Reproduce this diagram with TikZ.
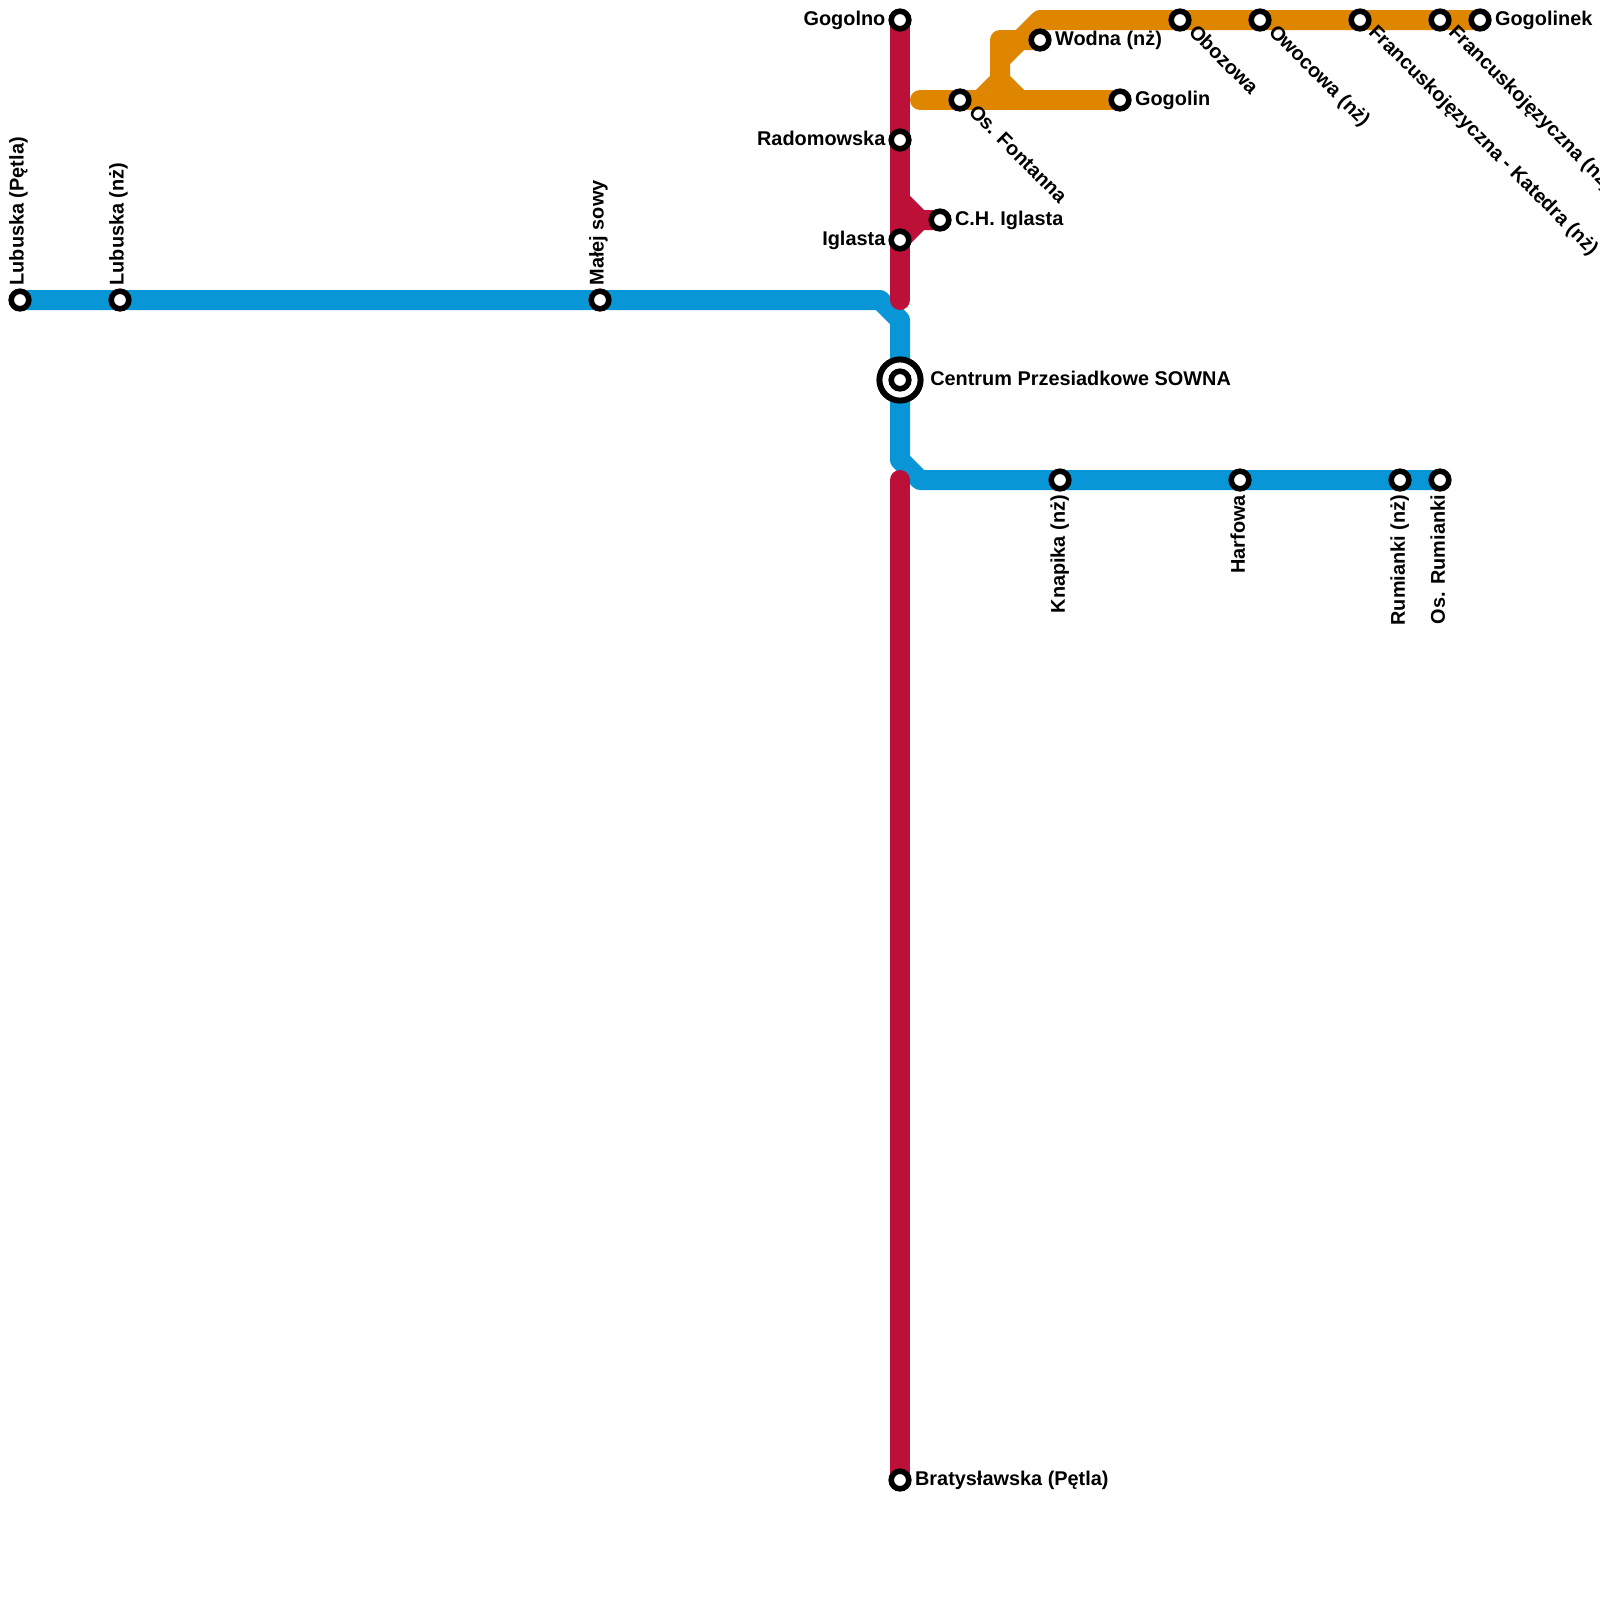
\documentclass[tikz,border=0pt]{standalone}
\usepackage{fontspec}
\setmainfont{Liberation Sans}
\usetikzlibrary{backgrounds,calc}
\definecolor{lineblue}{HTML}{0896D7}
\definecolor{linered}{HTML}{BD1038}
\definecolor{lineorange}{HTML}{DF8600}
\tikzset{
  metroline/.style={
    line width=0.5cm,
    line cap=round,
    line join=round
  },
  stop/.style={
    shape=circle,
    draw=black,
    fill=white,
    line width=0.14cm,
    minimum size=0.44cm,
    inner sep=0pt
  },
  hub/.style={
    stop,
    minimum size=1.03cm,
    line width=0.15cm
  },
  stoplabel/.style={
    font=\fontsize{14.15}{15}\selectfont\bfseries,
    inner sep=0pt,
    text=black
  },
  toright/.style={stoplabel,anchor=mid west,xshift=0.37cm,yshift=-0.04cm},
  toleft/.style={stoplabel,anchor=mid east,xshift=-0.36cm,yshift=-0.04cm},
  goup/.style={stoplabel,rotate=90,anchor=mid west,xshift=0.36cm},
  godown/.style={stoplabel,rotate=90,anchor=mid east,xshift=-0.37cm,yshift=-0.03cm},
  slant/.style={stoplabel,rotate=-45,anchor=mid west,xshift=0.36cm}
}
\begin{document}
\begin{tikzpicture}[x=0.5cm,y=-0.5cm]
    \useasboundingbox (0,0) rectangle (80,80);
    % red line
    \node[stop] (gogolno) at (45,1) {};
    \node[stop] (radomowska) at (45,7) {};
    \node[stop] (iglasta) at (45,12) {};
    \node[stop] (chiglasta) at (47,11) {};
    \node[stop] (bratyslawska) at (45,74) {};
    % blue line
    \node[stop] (lubuskapetla) at (1,15) {};
    \node[stop] (lubuska) at (6,15) {};
    \node[stop] (malejsowy) at (30,15) {};
    \node[stop] (knapika) at (53,24) {};
    \node[stop] (harfowa) at (62,24) {};
    \node[stop] (rumianki) at (70,24) {};
    \node[stop] (osrumianki) at (72,24) {};
    % orange line
    \node[stop] (fontanna) at (48,5) {};
    \node[stop] (gogolin) at (56,5) {};
    \node[stop] (wodna) at (52,2) {};
    \node[stop] (obozowa) at (59,1) {};
    \node[stop] (owocowa) at (63,1) {};
    \node[stop] (katedra) at (68,1) {};
    \node[stop] (francuska) at (72,1) {};
    \node[stop] (gogolinek) at (74,1) {};
    % interchange
    \node[hub] (sowna) at (45,19) {};
    \node[stop] (sownain) at (45,19) {};

    \begin{scope}[on background layer]
        \draw[metroline,lineblue] (lubuskapetla.center) -- (44,15) -- (45,16) -- (sowna.center)
            -- (45,23) -- (46,24) -- (osrumianki.center);
        \draw[metroline,linered] (gogolno.center) -- (45,15);
        \draw[metroline,linered] (45,24) -- (bratyslawska.center);
        \draw[metroline,linered] (45,10) -- (46,11) -- (chiglasta.center) -- (46,11) -- (iglasta.center);
        \draw[metroline,lineorange] (46,5) -- (gogolin.center);
        \draw[metroline,lineorange] (49,5) -- (50,4) -- (50,2) -- (wodna.center);
        \draw[metroline,lineorange] (50,4) -- (51,5);
        \draw[metroline,lineorange] (50,3) -- (51,2) -- (52,1) -- (gogolinek.center);
    \end{scope}

    \node[toleft] (gogolno-l) at (gogolno) {Gogolno};
    \node[toleft] (radomowska-l) at (radomowska) {Radomowska};
    \node[toleft] (iglasta-l) at (iglasta) {Iglasta};
    \node[toright] (chiglasta-l) at (chiglasta) {C.H. Iglasta};
    \node[toright] (bratyslawska-l) at (bratyslawska) {Bratysławska (Pętla)};
    \node[toright,xshift=0.38cm] (sowna-l) at (sowna) {Centrum Przesiadkowe SOWNA};
    \node[toright] (wodna-l) at (wodna) {Wodna (nż)};
    \node[toright] (gogolin-l) at (gogolin) {Gogolin};
    \node[toright] (gogolinek-l) at (gogolinek) {Gogolinek};

    \node[goup] (lubuskapetla-l) at (lubuskapetla) {Lubuska (Pętla)};
    \node[goup] (lubuska-l) at (lubuska) {Lubuska (nż)};
    \node[goup] (malejsowy-l) at (malejsowy) {Małej sowy};

    \node[godown] (knapika-l) at (knapika) {Knapika (nż)};
    \node[godown] (harfowa-l) at (harfowa) {Harfowa};
    \node[godown] (rumianki-l) at (rumianki) {Rumianki (nż)};
    \node[godown] (osrumianki-l) at (osrumianki) {Os. Rumianki};

    \node[slant] (fontanna-l) at (fontanna) {Os. Fontanna};
    \node[slant] (obozowa-l) at (obozowa) {Obozowa};
    \node[slant] (owocowa-l) at (owocowa) {Owocowa (nż)};
    \node[slant] (katedra-l) at (katedra) {Francuskojęzyczna - Katedra (nż)};
    \node[slant] (francuska-l) at (francuska) {Francuskojęzyczna (nż)};
\end{tikzpicture}
\end{document}
